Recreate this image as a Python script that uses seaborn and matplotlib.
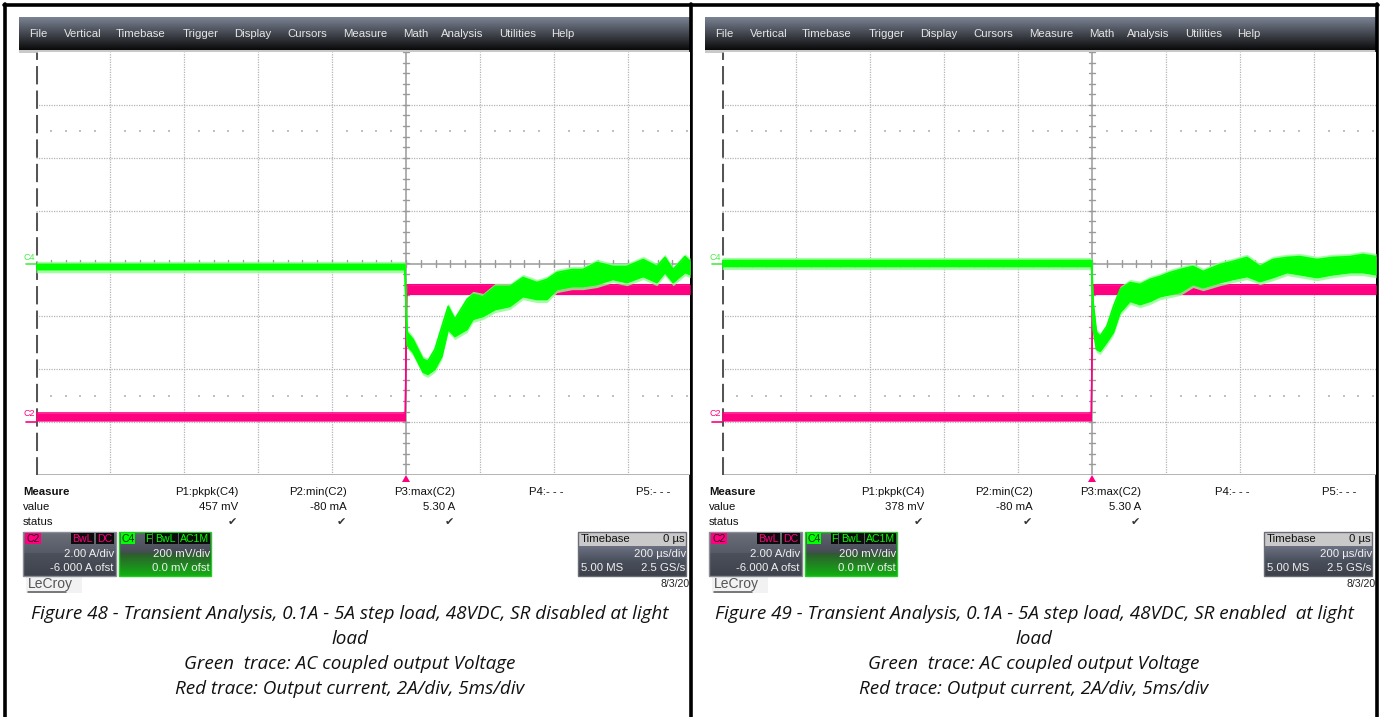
import numpy as np
import pandas as pd
import matplotlib
matplotlib.use("Agg")
import matplotlib.pyplot as plt
import seaborn as sns
from matplotlib import font_manager as fm
from matplotlib.patches import Rectangle, Polygon

# ---------------- data ----------------
# time in microseconds, voltage in V (AC coupled, 200 mV/div), current in A (2 A/div, -6 A offset)
t_green_48 = [-1000, -3, 3, 19, 46, 59, 78, 97, 114, 132, 165, 181, 208, 241, 281, 316,
              354, 381, 408, 449, 478, 516, 559, 597, 641, 678, 700, 722, 754, 768]
v_hi_48 = [-0.004, -0.004, -0.26, -0.287, -0.362, -0.370, -0.325, -0.238, -0.162, -0.211,
           -0.136, -0.117, -0.125, -0.087, -0.087, -0.053, -0.072, -0.060, -0.034, -0.023,
           -0.023, 0.004, -0.011, -0.011, 0.015, -0.011, 0.023, -0.023, 0.026, 0.008]
v_lo_48 = [-0.023, -0.023, -0.31, -0.336, -0.411, -0.419, -0.400, -0.351, -0.249, -0.276,
           -0.249, -0.211, -0.200, -0.174, -0.162, -0.125, -0.136, -0.136, -0.098, -0.087,
           -0.087, -0.079, -0.060, -0.072, -0.049, -0.072, -0.034, -0.072, -0.034, -0.042]

t_green_49 = [-1000, -1, 3, 12, 22, 40, 58, 76, 103, 130, 157, 184, 211, 238, 273, 300,
              346, 381, 419, 454, 489, 527, 562, 608, 651, 697, 732, 768]
v_hi_49 = [0.011, 0.011, -0.147, -0.26, -0.275, -0.238, -0.162, -0.098, -0.072, -0.079,
           -0.060, -0.049, -0.034, -0.023, -0.011, -0.030, -0.004, 0.008, 0.023, -0.011,
           0.015, 0.023, 0.026, 0.015, 0.023, 0.026, 0.034, 0.026]
v_lo_49 = [-0.011, -0.011, -0.249, -0.325, -0.332, -0.298, -0.260, -0.185, -0.143, -0.155,
           -0.143, -0.125, -0.117, -0.109, -0.079, -0.091, -0.072, -0.060, -0.049, -0.068,
           -0.053, -0.034, -0.042, -0.053, -0.042, -0.034, -0.034, -0.042]

t_red = [-1000, -2, 2, 768]
i_hi = [0.35, 0.35, 5.20, 5.20]
i_lo = [0.05, 0.05, 4.83, 4.83]

measure_headers = ["P1:pkpk(C4)", "P2:min(C2)", "P3:max(C2)"]
measure_values_48 = ["457 mV", "-80 mA", "5.30 A"]
measure_values_49 = ["378 mV", "-80 mA", "5.30 A"]
menu_items = ["File", "Vertical", "Timebase", "Trigger", "Display", "Cursors",
              "Measure", "Math", "Analysis", "Utilities", "Help"]
captions_48 = ["Figure 48 - Transient Analysis, 0.1A - 5A step load, 48VDC, SR disabled at light",
               "load", "Green  trace: AC coupled output Voltage",
               "Red trace: Output current, 2A/div, 5ms/div"]
captions_49 = ["Figure 49 - Transient Analysis, 0.1A - 5A step load, 48VDC, SR enabled  at light",
               "load", "Green  trace: AC coupled output Voltage",
               "Red trace: Output current, 2A/div, 5ms/div"]

V_PER_DIV = 0.2
A_PER_DIV = 2.0
A_OFFSET = -6.0
US_PER_DIV = 200

# ---------------- style ----------------
sns.set_style("white")
names = {f.name for f in fm.fontManager.ttflist}
ui_font = ["Liberation Sans", "DejaVu Sans"]
if "Liberation Sans Narrow" in names:
    cap_font, cap_size = ["Liberation Sans Narrow", "DejaVu Sans"], 14.2
else:
    cap_font, cap_size = ["Open Sans", "DejaVu Sans"], 13.6
plt.rcParams["font.family"] = ui_font

GREEN = "#00ff00"
PINK = "#ff0080"
W, H = 1380, 717
fig = plt.figure(figsize=(W / 100, H / 100), dpi=100)
ui = fig.add_axes([0, 0, 1, 1])
ui.set_xlim(0, W)
ui.set_ylim(H, 0)
ui.axis("off")


def gradient(ax, x0, y0, x1, y1, top, bottom, z=1):
    c0 = np.array(matplotlib.colors.to_rgb(top))
    c1 = np.array(matplotlib.colors.to_rgb(bottom))
    f = np.linspace(0, 1, 64)[:, None]
    img = (c0 * (1 - f) + c1 * f)[:, None, :]
    ax.imshow(img, extent=(x0, x1, y1, y0), aspect="auto", zorder=z, interpolation="bilinear")


def tag(x0, x1, y0, y1, text, bg, fg):
    ui.add_patch(Rectangle((x0, y0), x1 - x0, y1 - y0, facecolor=bg, edgecolor="none", zorder=5))
    ui.text((x0 + x1) / 2, (y0 + y1) / 2 + 0.5, text, color=fg, fontsize=7.6, ha="center",
            va="center", zorder=6)


def panel(ox, t_g, v_hi, v_lo, values, captions):
    # menu bar
    gradient(ui, 19 + ox, 17, 690 + ox, 50, "#7b8394", "#0a0a0a")
    ui.add_patch(Rectangle((19 + ox, 50), 671, 3, facecolor="#c9c9c9", edgecolor="none", zorder=2))
    xs = [29, 64, 116, 183, 234, 287, 343, 403, 441, 499, 551]
    for x, m in zip(xs, menu_items):
        ui.text(x + ox, 34, m, color="#e6e6e6", fontsize=8.2, ha="left", va="center", zorder=3)

    # plot area
    ax = fig.add_axes([(36 + ox) / W, (H - 475) / H, 654 / W, 423 / H])
    ax.set_facecolor("white")
    xmax = -1000 + 654 / 74 * US_PER_DIV
    for s in ax.spines.values():
        s.set_visible(False)
    ax.set_xticks([]); ax.set_yticks([])
    grid_kw = dict(color="#b4b4b4", lw=0.9, linestyle=(0, (1, 1)), zorder=1)
    for gx in range(-800, 801, 200):
        if gx != 0:
            ax.axvline(gx, **grid_kw)
    for gy in (-3, -2, -1, 1, 2, 3):
        ax.axhline(gy, **grid_kw)
    ax.axhline(-4, color="#a8a8a8", lw=1.2, zorder=1)
    # center cross with ticks
    ax.axvline(0, color="#9a9a9a", lw=1.1, zorder=1)
    ax.axhline(0, color="#9a9a9a", lw=1.1, zorder=1)
    for yy in np.arange(-4, 4.01, 0.2):
        ax.plot([-8, 8], [yy, yy], color="#9a9a9a", lw=1, zorder=1)
    for xx in range(-960, 761, 40):
        ax.plot([xx, xx], [-0.06, 0.06], color="#9a9a9a", lw=1, zorder=1)
    # faint dotted rows
    dots = [d for d in range(-960, 761, 40) if d % 200 != 0]
    ax.scatter(dots, [2.5] * len(dots), s=1.2, color="#c0c0c0", marker="s", lw=0, zorder=1)
    ax.scatter(dots, [-2.5] * len(dots), s=1.2, color="#c0c0c0", marker="s", lw=0, zorder=1)
    # left edge
    ax.axvline(-1000, color="#555555", lw=2.2, linestyle=(0, (6, 2)), zorder=2)

    # red trace (current)
    red = pd.DataFrame({"t": t_red,
                        "hi": (np.array(i_hi) + A_OFFSET) / A_PER_DIV,
                        "lo": (np.array(i_lo) + A_OFFSET) / A_PER_DIV})
    ax.fill_between(red["t"], red["lo"], red["hi"], color=PINK, lw=0, zorder=3)
    sns.lineplot(data=red, x="t", y="hi", ax=ax, color=PINK, lw=1, zorder=3, estimator=None)
    sns.lineplot(data=red, x="t", y="lo", ax=ax, color=PINK, lw=1, zorder=3, estimator=None)

    # green trace (voltage)
    grn = pd.DataFrame({"t": t_g,
                        "hi": np.array(v_hi) / V_PER_DIV,
                        "lo": np.array(v_lo) / V_PER_DIV})
    ax.fill_between(grn["t"], grn["lo"] - 0.06, grn["hi"] + 0.06, color="#8cff8c", lw=0, zorder=4, alpha=0.8)
    ax.fill_between(grn["t"], grn["lo"], grn["hi"], color=GREEN, lw=0, zorder=5)
    sns.lineplot(data=grn, x="t", y="hi", ax=ax, color=GREEN, lw=1.2, zorder=5, estimator=None)
    sns.lineplot(data=grn, x="t", y="lo", ax=ax, color=GREEN, lw=1.2, zorder=5, estimator=None)
    ax.set_xlabel(""); ax.set_ylabel("")
    ax.set_xlim(-1000, xmax)
    ax.set_ylim(-4, 4)

    # channel markers on left
    ui.text(23 + ox, 258, "C4", color="#44ee44", fontsize=6.5, ha="left", va="center", zorder=3)
    ui.plot([26 + ox, 36 + ox], [264, 264], color="#44ee44", lw=1.2, zorder=3)
    ui.text(23 + ox, 414, "C2", color=PINK, fontsize=6.5, ha="left", va="center", zorder=3)
    ui.plot([26 + ox, 36 + ox], [422, 422], color=PINK, lw=1.2, zorder=3)
    # trigger marker
    ui.add_patch(Polygon([[402 + ox, 482], [410 + ox, 482], [406 + ox, 475]], closed=True,
                         facecolor=PINK, edgecolor="none", zorder=3))

    # measure table
    ui.text(23 + ox, 492, "Measure", fontsize=8.2, fontweight="bold", color="#111111", va="center")
    ui.text(23 + ox, 507, "value", fontsize=8.2, color="#111111", va="center")
    ui.text(23 + ox, 522, "status", fontsize=8.2, color="#111111", va="center")
    for xr, hd, vl in zip([238, 347, 455], measure_headers, values):
        ui.text(xr + ox, 492, hd, fontsize=8.2, color="#111111", ha="right", va="center")
        ui.text(xr + ox, 507, vl, fontsize=8.2, color="#111111", ha="right", va="center")
        ui.text(xr - 1 + ox, 522, "\u2714", fontsize=8, color="#333333", ha="right", va="center",
                family=["DejaVu Sans"])
    ui.text(529 + ox, 492, "P4:- - -", fontsize=8.2, color="#111111", ha="left", va="center")
    ui.text(636 + ox, 492, "P5:- - -", fontsize=8.2, color="#111111", ha="left", va="center")

    # C2 box
    gradient(ui, 23 + ox, 532, 116 + ox, 553, "#6a6f7a", "#555a66", z=4)
    gradient(ui, 23 + ox, 553, 116 + ox, 576, "#4b505b", "#3e424c", z=4)
    ui.add_patch(Rectangle((23 + ox, 532), 93, 44, facecolor="none", edgecolor="#8a8d95", lw=1, zorder=5))
    tag(25 + ox, 41 + ox, 533, 544, "C2", PINK, "#300018")
    tag(71 + ox, 94 + ox, 533, 544, "BwL", "#0c0c0c", PINK)
    tag(96 + ox, 114 + ox, 533, 544, "DC", "#0c0c0c", PINK)
    ui.text(114 + ox, 554, "2.00 A/div", fontsize=8.2, color="#f0f0f0", ha="right", va="center", zorder=6)
    ui.text(114 + ox, 568, "-6.000 A ofst", fontsize=8.2, color="#f0f0f0", ha="right", va="center", zorder=6)

    # C4 box
    gradient(ui, 119 + ox, 532, 211 + ox, 553, "#5f6470", "#464b55", z=4)
    gradient(ui, 119 + ox, 553, 211 + ox, 576, "#2f5a30", "#12b012", z=4)
    ui.add_patch(Rectangle((119 + ox, 532), 92, 44, facecolor="none", edgecolor="#22cc22", lw=1, zorder=5))
    tag(121 + ox, 135 + ox, 533, 544, "C4", GREEN, "#003300")
    tag(145 + ox, 152 + ox, 533, 544, "F", "#0c0c0c", GREEN)
    tag(153 + ox, 178 + ox, 533, 544, "BwL", "#0c0c0c", GREEN)
    tag(179 + ox, 210 + ox, 533, 544, "AC1M", "#0c0c0c", GREEN)
    ui.text(210 + ox, 554, "200 mV/div", fontsize=8.2, color="#f0f0f0", ha="right", va="center", zorder=6)
    ui.text(210 + ox, 568, "0.0 mV ofst", fontsize=8.2, color="#f0f0f0", ha="right", va="center", zorder=6)

    # Timebase box
    ui.add_patch(Rectangle((578 + ox, 532), 108, 14, facecolor="#c9c9c9", edgecolor="none", zorder=4))
    gradient(ui, 578 + ox, 546, 686 + ox, 561, "#6c7282", "#4a4f5c", z=4)
    gradient(ui, 578 + ox, 561, 686 + ox, 576, "#4a4f5c", "#3c404a", z=4)
    ui.add_patch(Rectangle((578 + ox, 532), 108, 44, facecolor="none", edgecolor="#6a6d75", lw=1, zorder=5))
    ui.text(581 + ox, 539, "Timebase", fontsize=8.2, color="#111111", ha="left", va="center", zorder=6)
    ui.text(685 + ox, 539, "0 \u00b5s", fontsize=8.2, color="#111111", ha="right", va="center", zorder=6)
    ui.text(686 + ox, 554, "200 \u00b5s/div", fontsize=8.2, color="#f0f0f0", ha="right", va="center", zorder=6)
    ui.text(581 + ox, 568, "5.00 MS", fontsize=8.2, color="#f0f0f0", ha="left", va="center", zorder=6)
    ui.text(685 + ox, 568, "2.5 GS/s", fontsize=8.2, color="#f0f0f0", ha="right", va="center", zorder=6)
    ui.text(690 + ox, 584, "8/3/20", fontsize=7.6, color="#222222", ha="right", va="center", zorder=6)

    # LeCroy logo
    ui.add_patch(Rectangle((26 + ox, 577), 56, 16, facecolor="#f2f2f2", edgecolor="none", zorder=3))
    ui.text(28 + ox, 584, "LeCroy", fontsize=10, color="#555555", ha="left", va="center", zorder=4)
    ui.plot([28 + ox, 66 + ox], [591.5, 591.5], color="#555555", lw=1.1, zorder=4)

    # caption
    cx = 350 + ox - (2 if ox else 0)
    for yy, line in zip([614, 639, 664, 689], captions):
        ui.text(cx, yy, line, fontsize=cap_size, style="italic", color="#111111",
                ha="center", va="center", family=cap_font)
    return ax


panel(0, t_green_48, v_hi_48, v_lo_48, measure_values_48, captions_48)
panel(686, t_green_49, v_hi_49, v_lo_49, measure_values_49, captions_49)

# borders
ui.plot([5, 5], [4, 717], color="black", lw=2.6, zorder=10)
ui.plot([4, 1378], [5, 5], color="black", lw=2.6, zorder=10)
ui.plot([691, 691], [4, 717], color="black", lw=2.6, zorder=10)
ui.plot([1377, 1377], [4, 717], color="black", lw=2.6, zorder=10)

fig.savefig("out.png", dpi=100)
